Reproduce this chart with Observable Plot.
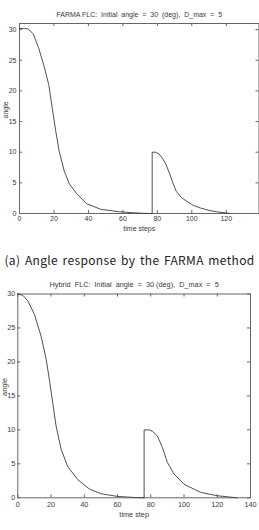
<!DOCTYPE html>
<html>
<head>
<meta charset="utf-8">
<script src="https://cdn.jsdelivr.net/npm/d3@7"></script>
<script src="https://cdn.jsdelivr.net/npm/@observablehq/plot@0.6"></script>
<style>
  html, body { margin: 0; padding: 0; background: #fff; }
  #wrap { position: relative; width: 259px; height: 530px; overflow: hidden; background: #fff; }
  #wrap svg { position: absolute; left: 0; background: transparent; }
  #caption { position: absolute; left: 0; top: 251px; width: 259px; text-align: center; white-space: nowrap;
             font-family: "Noto Sans CJK KR", "Noto Sans", sans-serif; font-size: 12px; letter-spacing: 0.35px; word-spacing: 1.5px;
             color: #222; line-height: 17px; }
</style>
</head>
<body>
<div id="wrap"><div id="caption">(a) Angle response by the FARMA method</div></div>
<script>
// ---- data ----
const titleA = "FARMA FLC:  Initial  angle  =  30  (deg),  D_max  =  5";
const titleB = "Hybrid  FLC:  Initial  angle  =  30 (deg),  D_max  =  5";
const xLabelA = "time steps";
const xLabelB = "time step";
const yLabel = "angle";

const timeA  = [0, 3, 5, 8, 11, 14, 17, 19, 21, 23, 26, 29, 33, 39, 47, 58, 66, 72, 77, 77, 79, 81, 83, 85, 87, 89, 91, 94, 97, 101, 105, 110, 115, 120, 122];
const angleA = [30.2, 30.2, 30.1, 29.3, 27.1, 24.3, 21.0, 17.2, 13.5, 10.2, 6.9, 4.8, 3.3, 1.6, 0.7, 0.28, 0.12, 0.03, 0, 10, 10, 9.7, 9.0, 8.0, 6.6, 5.0, 3.6, 2.6, 2.0, 1.3, 0.9, 0.5, 0.25, 0.08, 0];

const timeB  = [0, 3, 6, 10, 14, 17, 19, 21, 23, 26, 30, 36, 43, 50, 60, 70, 76, 76, 79, 81, 84, 87, 90, 94, 100, 110, 120, 130, 132];
const angleB = [30, 29.8, 29.0, 27.0, 23.8, 20.5, 17.4, 14.0, 10.6, 7.2, 4.6, 2.7, 1.3, 0.6, 0.2, 0.05, 0, 10, 10, 9.8, 9.1, 7.4, 5.2, 3.5, 2.0, 0.8, 0.3, 0.05, 0];

const xTicksA = [0, 20, 40, 60, 80, 100, 120];
const xTicksB = [0, 20, 40, 60, 80, 100, 120, 140];
const yTicks  = [0, 5, 10, 15, 20, 25, 30];

const font = '"Liberation Sans Narrow", "Liberation Sans", Arial, sans-serif';

function makeChart({time, angle, xDomain, yDomain, xTicks, title, xLabel, width, height, mt, mb, ml, mr, fs, xPad, yPad, titleDy, xLabDy, yLabDx}) {
  const data = time.map((t, i) => ({t, a: angle[i]}));
  const fh = height - mt - mb;
  const fw = width - ml - mr;
  const ink = "#3a3a3a";
  return Plot.plot({
    width, height,
    marginTop: mt, marginBottom: mb, marginLeft: ml, marginRight: mr,
    style: {fontFamily: font, fontSize: fs + "px", color: ink, background: "transparent", overflow: "visible"},
    x: {domain: xDomain},
    y: {domain: yDomain},
    marks: [
      Plot.frame({stroke: "#666", strokeWidth: 1}),
      // inward ticks on four sides
      Plot.tickX(xTicks, {x: d => d, insetTop: fh - 3, stroke: "#666"}),
      Plot.tickX(xTicks, {x: d => d, insetBottom: fh - 3, stroke: "#666"}),
      Plot.tickY(yTicks, {y: d => d, insetRight: fw - 3, stroke: "#666"}),
      Plot.tickY(yTicks, {y: d => d, insetLeft: fw - 3, stroke: "#666"}),
      Plot.axisX(xTicks, {tickSize: 0, tickPadding: xPad, label: null, fill: ink}),
      Plot.axisY(yTicks, {tickSize: 0, tickPadding: yPad, label: null, fill: ink}),
      Plot.line(data, {x: "t", y: "a", stroke: "#3c3c3c", strokeWidth: 0.9}),
      Plot.text([title], {frameAnchor: "top", lineAnchor: "middle", dy: titleDy, text: d => d, fill: ink, fontSize: fs}),
      Plot.text([xLabel], {frameAnchor: "bottom", lineAnchor: "middle", dy: xLabDy, text: d => d, fill: ink, fontSize: fs}),
      Plot.text([yLabel], {frameAnchor: "left", lineAnchor: "middle", dx: yLabDx, rotate: -90, text: d => d, fill: ink, fontSize: fs})
    ]
  });
}

const wrap = document.getElementById("wrap");

const chartA = makeChart({
  time: timeA, angle: angleA, xDomain: [0, 139], yDomain: [0, 31], xTicks: xTicksA,
  title: titleA, xLabel: xLabelA,
  width: 259, height: 240, mt: 23, mb: 27, ml: 19, mr: 0.5, fs: 7,
  xPad: 3, yPad: 3, titleDy: -9, xLabDy: 15, yLabDx: -14
});
chartA.style.top = "0px";
wrap.appendChild(chartA);

const chartB = makeChart({
  time: timeB, angle: angleB, xDomain: [0, 140], yDomain: [0, 30], xTicks: xTicksB,
  title: titleB, xLabel: xLabelB,
  width: 259, height: 260, mt: 23.5, mb: 32.7, ml: 17.3, mr: 9, fs: 7.3,
  xPad: 4.5, yPad: 2.5, titleDy: -9.5, xLabDy: 16.7, yLabDx: -13.5
});
chartB.style.top = "270px";
wrap.appendChild(chartB);
</script>
</body>
</html>
